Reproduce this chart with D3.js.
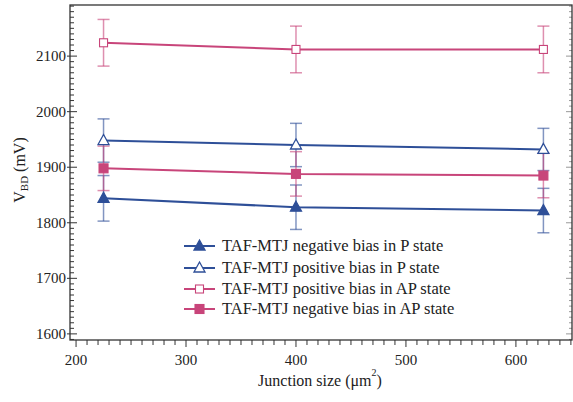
<!DOCTYPE html>
<html>
<head>
<meta charset="utf-8">
<script src="https://cdn.jsdelivr.net/npm/d3@7"></script>
<style>
  body { margin: 0; background: #fff; }
  text { font-family: "Liberation Serif", "DejaVu Serif", serif; fill: #222; }
</style>
</head>
<body>
<svg id="chart"></svg>
<script>
// junction sizes (um^2)
const sizes = [225, 400, 625];

// breakdown voltage (mV) and error
const negP = [1844, 1828, 1822];
const negPErr = [41, 40, 40];
const posP = [1948, 1940, 1932];
const posPErr = [39, 39, 38];
const posAP = [2124, 2112, 2112];
const posAPErr = [42, 42, 42];
const negAP = [1898, 1888, 1885];
const negAPErr = [40, 40, 40];

const xTicks = [200, 300, 400, 500, 600];
const yTicks = [1600, 1700, 1800, 1900, 2000, 2100];

const blue = "#2e4f98";
const pink = "#c8457a";

const series = [
  { label: "TAF-MTJ negative bias in P state", vals: negP, err: negPErr, color: blue, shape: "tri", filled: true },
  { label: "TAF-MTJ positive bias in P state", vals: posP, err: posPErr, color: blue, shape: "tri", filled: false },
  { label: "TAF-MTJ positive bias in AP state", vals: posAP, err: posAPErr, color: pink, shape: "sq", filled: false },
  { label: "TAF-MTJ negative bias in AP state", vals: negAP, err: negAPErr, color: pink, shape: "sq", filled: true }
];

const W = 573, H = 402;
const mL = 70, mR = 572, mT = 5, mB = 340;

const svg = d3.select("#chart").attr("width", W).attr("height", H);

const x = d3.scaleLinear().domain([194.5, 651]).range([mL, mR]);
const y = d3.scaleLinear().domain([1589, 2192]).range([mB, mT]);

// frame
svg.append("rect")
  .attr("x", mL).attr("y", mT)
  .attr("width", mR - mL).attr("height", mB - mT)
  .attr("fill", "none").attr("stroke", "#333").attr("stroke-width", 1.3);

// x ticks (minor every 10)
const ax = svg.append("g").attr("stroke", "#333").attr("stroke-width", 1);
d3.range(200, 651, 10).forEach(v => {
  const major = v % 100 === 0;
  ax.append("line").attr("x1", x(v)).attr("x2", x(v))
    .attr("y1", mB).attr("y2", mB + (major ? 7 : 5));
});
svg.append("g").selectAll("text").data(xTicks).enter().append("text")
  .attr("x", d => x(d)).attr("y", mB + 25)
  .attr("text-anchor", "middle").attr("font-size", 15)
  .text(d => d);

// y ticks (minor every 10), left and right
d3.range(1590, 2191, 10).forEach(v => {
  const major = v % 100 === 0;
  ax.append("line").attr("x1", mL - (major ? 3 : 0)).attr("x2", mL + (major ? 7 : 4))
    .attr("y1", y(v)).attr("y2", y(v));
  ax.append("line").attr("x1", mR).attr("x2", mR - (major ? 6 : 3))
    .attr("y1", y(v)).attr("y2", y(v)).attr("stroke-opacity", 0.5);
});
svg.append("g").selectAll("text").data(yTicks).enter().append("text")
  .attr("x", mL - 4).attr("y", d => y(d) + 5)
  .attr("text-anchor", "end").attr("font-size", 15)
  .text(d => d);

// axis titles
const yl = svg.append("text")
  .attr("transform", "translate(25," + 170 + ") rotate(-90)")
  .attr("text-anchor", "middle").attr("font-size", 16);
yl.append("tspan").text("V");
yl.append("tspan").attr("font-size", 11).attr("dy", 3).text("BD");
yl.append("tspan").attr("dy", -3).text(" (mV)");

const xl = svg.append("text")
  .attr("x", 320).attr("y", 386)
  .attr("text-anchor", "middle").attr("font-size", 16);
xl.append("tspan").text("Junction size (\u03bcm");
xl.append("tspan").attr("font-size", 10).attr("dy", -10).text("2");
xl.append("tspan").attr("dy", 10).text(")");

function marker(g, s, cx, cy) {
  if (s.shape === "tri") {
    const h = 10;
    g.append("path")
      .attr("d", `M${cx},${cy - h * 0.6}L${cx + h * 0.55},${cy + h * 0.4}L${cx - h * 0.55},${cy + h * 0.4}Z`)
      .attr("fill", s.filled ? s.color : "#fff")
      .attr("stroke", s.color).attr("stroke-width", 1.3);
  } else {
    const a = s.filled ? 9 : 8;
    g.append("rect")
      .attr("x", cx - a / 2).attr("y", cy - a / 2).attr("width", a).attr("height", a)
      .attr("fill", s.filled ? s.color : "#fff")
      .attr("stroke", s.color).attr("stroke-width", 1.1);
  }
}

const line = d3.line().x((d, i) => x(sizes[i])).y(d => y(d));

// error bars
series.forEach(s => {
  const g = svg.append("g").attr("stroke", s.color).attr("stroke-opacity", 0.6).attr("stroke-width", 1.5);
  s.vals.forEach((v, i) => {
    const cx = x(sizes[i]);
    g.append("line").attr("x1", cx).attr("x2", cx).attr("y1", y(v - s.err[i])).attr("y2", y(v + s.err[i]));
    [v - s.err[i], v + s.err[i]].forEach(e => {
      g.append("line").attr("x1", cx - 6).attr("x2", cx + 6).attr("y1", y(e)).attr("y2", y(e));
    });
  });
});

// lines and markers
series.forEach(s => {
  svg.append("path").datum(s.vals)
    .attr("d", line).attr("fill", "none")
    .attr("stroke", s.color).attr("stroke-width", 2);
  const g = svg.append("g");
  s.vals.forEach((v, i) => marker(g, s, x(sizes[i]), y(v)));
});

// legend
const legY = [246, 268, 289, 309];
series.forEach((s, i) => {
  const g = svg.append("g");
  g.append("line").attr("x1", 184).attr("x2", 215).attr("y1", legY[i]).attr("y2", legY[i])
    .attr("stroke", s.color).attr("stroke-width", 2);
  marker(g, s, 199.5, legY[i]);
  g.append("text").attr("x", 222).attr("y", legY[i] + 5)
    .attr("font-size", 16.5).text(s.label);
});
</script>
</body>
</html>
